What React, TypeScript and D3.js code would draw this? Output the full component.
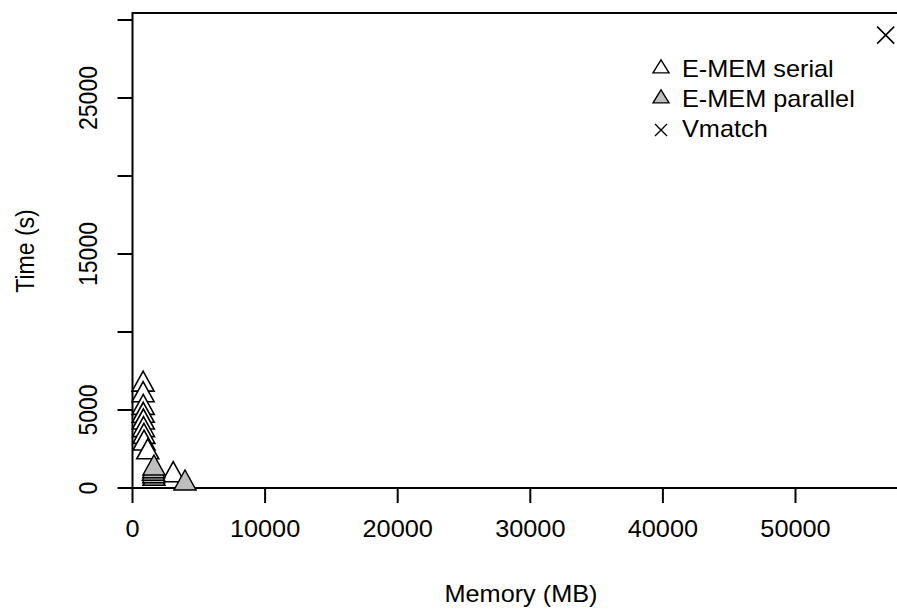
import React from "react";
import * as d3 from "d3";

const serialMem = [800, 800, 810, 810, 820, 830, 860, 870, 1150, 3070];
const serialTime = [6640, 5960, 5150, 4640, 4210, 3720, 3290, 2860, 2300, 830];
const parallelMem = [1620, 1600, 1580, 1600, 1620, 3960];
const parallelTime = [600, 770, 930, 1090, 1260, 300];
const vmatchMem = [56800];
const vmatchTime = [29030];

const xTicks = [0, 10000, 20000, 30000, 40000, 50000];
const yTicks = [0, 5000, 10000, 15000, 20000, 25000, 30000];
const yLabels = [0, 5000, 15000, 25000];
const legendLabels = ["E-MEM serial", "E-MEM parallel", "Vmatch"];

const W = 897;
const H = 616;
const FONT = "'Liberation Sans', Arial, Helvetica, sans-serif";

function triPath(cx: number, cy: number, w: number, h: number) {
  const p = d3.path();
  p.moveTo(cx, cy - (2 * h) / 3);
  p.lineTo(cx + w / 2, cy + h / 3);
  p.lineTo(cx - w / 2, cy + h / 3);
  p.closePath();
  return p.toString();
}
function crossPath(cx: number, cy: number, r: number) {
  const p = d3.path();
  p.moveTo(cx - r, cy - r);
  p.lineTo(cx + r, cy + r);
  p.moveTo(cx - r, cy + r);
  p.lineTo(cx + r, cy - r);
  return p.toString();
}

export default function App() {
  const x = d3.scaleLinear().domain([0, 60000]).range([132.5, 132.5 + 6 * 132.6]);
  const y = d3.scaleLinear().domain([0, 30000]).range([488, 20]);
  const left = 132.5;
  const top = 13;
  const bottom = 488;
  const txt = { fontFamily: FONT, fontSize: 23, fill: "#000" } as const;
  const sx = 1.1;

  return (
    <svg width={W} height={H} style={{ position: "absolute", left: 0, top: 0, background: "#fff" }}>
      <rect width={W} height={H} fill="#fff" />
      {/* frame */}
      <line x1={left} x2={W} y1={top} y2={top} stroke="#000" strokeWidth={2} />
      <line x1={left} x2={left} y1={top - 1} y2={bottom} stroke="#000" strokeWidth={2} />
      <line x1={left} x2={W} y1={bottom} y2={bottom} stroke="#000" strokeWidth={2} />
      {/* x axis */}
      {xTicks.map((t) => (
        <g key={"xt" + t}>
          <line x1={x(t)} x2={x(t)} y1={bottom} y2={bottom + 15} stroke="#000" strokeWidth={2} />
          <text {...txt} textAnchor="middle" transform={`translate(${x(t)},${537}) scale(${sx},1)`}>
            {t}
          </text>
        </g>
      ))}
      {/* y axis */}
      {yTicks.map((t) => (
        <line key={"yt" + t} x1={left - 15} x2={left} y1={y(t)} y2={y(t)} stroke="#000" strokeWidth={2} />
      ))}
      {yLabels.map((t) => (
        <text key={"yl" + t} {...txt} textAnchor="middle" transform={`translate(${97},${y(t)}) scale(${sx},1) rotate(-90)`}>
          {t}
        </text>
      ))}
      <text {...txt} textAnchor="middle" transform={`translate(${34},${251}) scale(${sx},1) rotate(-90)`}>
        Time (s)
      </text>
      <text {...txt} textAnchor="middle" transform={`translate(${521},${602}) scale(${sx},1)`}>
        Memory (MB)
      </text>
      {/* data */}
      {serialMem.map((m, i) => (
        <path key={"s" + i} d={triPath(x(m), y(serialTime[i]), 22, 20)} fill="#fff" stroke="#000" strokeWidth={1.6} />
      ))}
      {parallelMem.map((m, i) => (
        <path key={"p" + i} d={triPath(x(m), y(parallelTime[i]), 22, 20)} fill="#bebebe" stroke="#000" strokeWidth={1.5} />
      ))}
      {vmatchMem.map((m, i) => (
        <path key={"v" + i} d={crossPath(x(m), y(vmatchTime[i]), 8.5)} fill="none" stroke="#000" strokeWidth={1.6} />
      ))}
      {/* legend */}
      <path d={triPath(661, 68.5, 16, 13)} fill="#fff" stroke="#000" strokeWidth={1.4} />
      <path d={triPath(661, 98.5, 16, 13)} fill="#bebebe" stroke="#000" strokeWidth={1.4} />
      <path d={crossPath(661, 130, 6)} fill="none" stroke="#000" strokeWidth={1.4} />
      {legendLabels.map((l, i) => (
        <text key={l} {...txt} transform={`translate(${682},${77 + i * 30}) scale(${sx},1)`}>
          {l}
        </text>
      ))}
    </svg>
  );
}
